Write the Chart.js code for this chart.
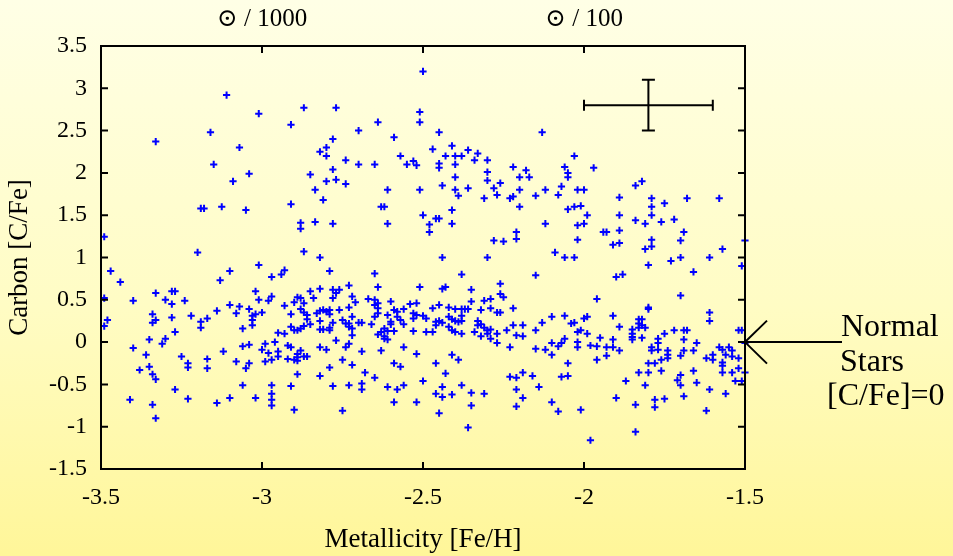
<!DOCTYPE html>
<html>
<head>
<meta charset="utf-8">
<script src="https://cdn.jsdelivr.net/npm/chart.js@4.4.1/dist/chart.umd.min.js"></script>
<style>
  html, body { margin: 0; padding: 0; }
  body {
    width: 953px; height: 556px; overflow: hidden;
    background: linear-gradient(to bottom, #ffffe6 0%, #fffcc4 55%, #fff699 100%);
  }
  canvas { display: block; }
</style>
</head>
<body>
<canvas id="starChart" width="953" height="556"></canvas>
<script>
// Star data: [Fe/H], [C/Fe]
const stars = [
  // upper cloud, left
  [-3.11,2.92],[-3.01,2.70],[-2.87,2.77],[-2.91,2.57],[-3.33,2.37],[-3.16,2.48],[-3.07,2.30],
  [-3.15,2.10],[-3.04,1.99],[-2.85,1.98],[-3.09,1.90],[-2.835,1.80],[-3.19,1.58],[-3.18,1.58],
  [-3.125,1.60],[-3.05,1.56],[-2.91,1.63],[-2.88,1.41],[-2.88,1.34],[-2.835,1.42],[-3.49,1.245],
  [-3.20,1.06],[-2.87,1.07],
  // upper cloud, middle
  [-2.50,3.20],[-2.77,2.77],[-2.51,2.72],[-2.51,2.60],[-2.64,2.60],[-2.70,2.50],[-2.45,2.48],
  [-2.59,2.42],[-2.78,2.40],[-2.82,2.25],[-2.80,2.30],[-2.80,2.20],[-2.74,2.15],[-2.70,2.10],
  [-2.65,2.10],[-2.57,2.20],[-2.55,2.10],[-2.53,2.14],[-2.52,2.09],[-2.47,2.28],[-2.41,2.32],
  [-2.43,2.20],[-2.40,2.20],[-2.38,2.20],[-2.36,2.27],[-2.33,2.23],[-2.34,2.15],[-2.30,2.15],
  [-2.45,2.11],[-2.45,2.06],[-2.40,2.10],[-2.78,2.04],[-2.80,1.90],[-2.77,1.92],[-2.74,1.87],
  [-2.81,1.68],[-2.61,1.80],[-2.51,1.80],[-2.44,1.85],[-2.40,1.95],[-2.40,1.80],[-2.39,1.73],
  [-2.36,1.82],[-2.30,2.01],[-2.30,1.91],[-2.28,1.82],[-2.26,1.88],[-2.27,1.74],[-2.31,1.70],
  [-2.22,2.07],[-2.18,2.03],[-2.20,1.95],[-2.17,1.95],[-2.20,1.80],[-2.23,1.70],[-2.22,1.72],
  [-2.20,1.60],[-2.63,1.60],[-2.62,1.60],[-2.78,1.40],[-2.61,1.40],[-2.50,1.50],[-2.48,1.39],
  [-2.48,1.30],[-2.46,1.46],[-2.45,1.46],[-2.41,1.56],[-2.41,1.40],[-2.28,1.20],[-2.25,1.19],
  [-2.21,1.30],[-2.21,1.22],
  // upper cloud, right
  [-2.13,2.48],[-2.03,2.20],[-2.06,2.07],[-2.05,2.00],[-2.05,1.95],[-1.97,2.06],[-2.07,1.84],
  [-2.12,1.80],[-2.15,1.73],[-2.08,1.74],[-2.02,1.80],[-2.00,1.80],[-2.05,1.57],[-2.03,1.60],
  [-2.01,1.61],[-1.99,1.50],[-2.12,1.40],[-2.02,1.38],[-2.00,1.40],[-2.02,1.21],[-1.94,1.30],
  [-1.93,1.30],[-1.91,1.15],[-1.89,1.17],[-1.89,1.71],[-1.89,1.50],[-1.89,1.32],[-1.84,1.85],
  [-1.82,1.90],[-1.79,1.70],[-1.79,1.60],[-1.79,1.50],[-1.75,1.64],[-1.68,1.70],[-1.58,1.70],
  [-1.84,1.44],[-1.81,1.40],[-1.76,1.42],[-1.72,1.45],[-1.69,1.30],[-1.70,1.20],[-1.79,1.21],
  [-1.79,1.13],[-1.81,1.10],[-1.57,1.10],[-1.50,1.20],[-2.09,1.06],
  // normal band, far left
  [-3.01,0.91],[-3.47,0.84],[-3.44,0.71],[-3.10,0.84],[-3.13,0.73],[-3.49,0.52],[-3.40,0.49],
  [-3.33,0.58],[-3.28,0.60],[-3.27,0.60],[-3.30,0.50],[-3.28,0.45],[-3.24,0.49],[-3.02,0.60],
  [-3.01,0.50],[-3.10,0.44],[-3.07,0.42],[-3.08,0.34],[-3.04,0.39],[-3.14,0.37],[-3.48,0.26],
  [-3.49,0.19],[-3.34,0.33],[-3.33,0.26],[-3.34,0.23],[-3.28,0.29],[-3.22,0.31],[-3.17,0.28],
  [-3.19,0.24],[-3.19,0.17],[-3.03,0.31],[-3.02,0.33],[-3.03,0.26],[-3.03,0.20],[-3.06,0.16],
  [-3.27,0.12],[-3.35,0.03],[-3.30,0.04],[-3.31,-0.02],[-3.40,-0.07],[-3.36,-0.15],[-3.25,-0.17],
  [-3.17,-0.20],[-3.12,-0.11],[-3.06,-0.05],[-3.04,-0.03],
  // normal band, centre left
  [-2.82,1.00],[-2.97,0.77],[-2.94,0.80],[-2.93,0.85],[-2.79,0.84],[-2.65,0.81],[-2.64,0.65],
  [-2.73,0.67],[-2.82,0.63],[-2.85,0.60],[-2.78,0.62],[-2.76,0.62],[-2.77,0.58],[-2.78,0.52],
  [-2.84,0.52],[-2.72,0.54],[-2.71,0.47],[-2.51,0.65],[-2.67,0.51],[-2.65,0.50],[-2.64,0.46],
  [-2.60,0.48],[-2.97,0.54],[-2.98,0.49],[-3.00,0.35],[-2.93,0.43],[-2.90,0.47],[-2.89,0.53],
  [-2.88,0.52],[-2.87,0.46],[-2.88,0.39],[-2.91,0.33],[-2.87,0.35],[-2.86,0.32],[-2.86,0.27],
  [-2.83,0.34],[-2.82,0.37],[-2.81,0.38],[-2.80,0.36],[-2.79,0.38],[-2.79,0.33],[-2.82,0.25],
  [-2.76,0.38],[-2.73,0.41],[-2.78,0.23],[-2.75,0.26],[-2.74,0.22],[-2.72,0.30],[-2.73,0.22],
  [-2.73,0.18],[-2.72,0.16],[-2.70,0.23],[-2.69,0.23],[-2.72,0.08],[-2.66,0.21],[-2.65,0.44],
  [-2.64,0.40],[-2.65,0.30],[-2.64,0.34],[-2.61,0.32],[-2.60,0.24],[-2.60,0.21],[-2.59,0.38],
  [-2.58,0.36],[-2.56,0.39],[-2.58,0.30],[-2.57,0.26],[-2.56,0.21],[-2.54,0.45],[-2.52,0.46],
  [-2.53,0.34],[-2.52,0.32],[-2.53,0.28],[-2.53,0.13],[-2.62,0.16],[-2.61,0.13],[-2.63,0.12],
  [-2.62,0.07],[-2.62,0.04],[-2.61,0.03],[-2.64,0.09],[-2.59,0.13],[-2.91,0.18],[-2.90,0.14],
  [-2.89,0.14],[-2.88,0.16],[-2.87,0.19],[-2.85,0.21],[-2.82,0.15],[-2.81,0.15],[-2.79,0.17],
  [-2.79,0.14],[-2.95,0.11],[-2.93,0.10],[-2.96,0.00],[-2.99,-0.02],[-3.00,-0.09],[-2.92,-0.04],
  [-2.91,-0.06],[-2.95,-0.11],[-2.98,-0.13],[-2.89,-0.14],[-2.88,-0.10],[-2.87,-0.17],[-2.89,-0.18],
  [-2.86,-0.17],[-2.82,-0.06],[-2.80,-0.09],[-2.77,0.02],[-2.74,-0.06],[-2.73,-0.02],[-2.69,-0.11],
  [-2.63,-0.10],[-2.56,-0.06],[-2.52,-0.14],
  // normal band, centre right
  [-2.44,1.00],[-2.30,1.00],[-2.06,1.00],[-2.03,1.00],[-2.38,0.80],[-2.15,0.79],[-2.26,0.69],
  [-2.44,0.63],[-2.43,0.65],[-2.35,0.62],[-2.35,0.48],[-2.26,0.57],[-2.25,0.53],[-2.31,0.49],
  [-2.29,0.51],[-2.45,0.44],[-2.47,0.40],[-2.42,0.41],[-2.40,0.39],[-2.38,0.39],[-2.37,0.39],
  [-2.36,0.39],[-2.32,0.38],[-2.29,0.40],[-2.27,0.35],[-2.26,0.35],[-2.22,0.40],[-2.50,0.31],
  [-2.49,0.28],[-2.46,0.24],[-2.45,0.25],[-2.44,0.23],[-2.46,0.20],[-2.42,0.30],[-2.41,0.27],
  [-2.40,0.25],[-2.39,0.24],[-2.38,0.31],[-2.38,0.25],[-2.42,0.18],[-2.41,0.14],[-2.40,0.12],
  [-2.38,0.10],[-2.49,0.12],[-2.47,0.12],[-2.33,0.25],[-2.32,0.21],[-2.33,0.20],[-2.31,0.17],
  [-2.34,0.12],[-2.32,0.07],[-2.30,0.14],[-2.29,0.15],[-2.30,0.10],[-2.29,0.04],[-2.27,0.10],
  [-2.27,-0.01],[-2.24,0.14],[-2.22,0.20],[-2.19,0.20],[-2.21,0.08],[-2.19,0.07],[-2.23,-0.06],
  [-2.15,0.14],[-2.13,0.23],[-2.10,0.30],[-2.06,0.31],[-2.04,0.22],[-2.03,0.23],[-2.02,0.12],
  [-2.01,0.14],[-2.00,0.28],[-2.02,0.00],[-2.02,-0.06],[-2.10,-0.01],[-2.08,-0.05],[-2.07,-0.01],
  [-2.06,0.04],[-2.15,-0.08],[-2.12,-0.09],[-2.10,-0.15],[-2.41,-0.15],[-2.39,-0.21],
  // normal band, right
  [-1.70,1.00],[-1.73,0.96],[-1.61,1.00],[-1.80,0.91],[-1.51,0.90],[-1.90,0.77],[-1.88,0.80],
  [-1.66,0.83],[-1.96,0.51],[-1.70,0.55],[-1.80,0.41],[-1.80,0.39],[-1.61,0.35],[-1.61,0.25],
  [-1.99,0.30],[-1.91,0.31],[-1.89,0.18],[-1.83,0.27],[-1.82,0.27],[-1.83,0.22],[-1.82,0.20],
  [-1.81,0.17],[-1.83,0.17],[-1.85,0.15],[-1.85,0.10],[-1.85,0.06],[-1.85,0.03],[-1.82,0.05],
  [-1.99,0.10],[-1.95,0.05],[-1.91,0.03],[-1.75,0.10],[-1.72,0.14],[-1.69,0.14],[-1.68,0.14],
  [-1.69,0.03],[-1.77,0.04],[-1.77,-0.01],[-1.65,-0.01],[-1.52,0.14],[-1.51,0.14],[-1.98,-0.04],
  [-1.96,-0.05],[-1.93,-0.06],[-1.91,-0.06],[-1.89,-0.10],[-1.93,-0.16],[-1.79,-0.06],[-1.79,-0.10],
  [-1.77,-0.09],[-1.74,-0.10],[-1.74,-0.15],[-1.74,-0.19],[-1.69,-0.10],[-1.70,-0.16],[-1.66,-0.10],
  [-1.58,-0.06],[-1.57,-0.09],[-1.56,-0.15],[-1.55,-0.06],[-1.54,-0.10],[-1.54,-0.17],[-1.60,-0.15],
  [-1.62,-0.19],[-1.52,-0.19],[-1.50,-0.01],
  // low side, left
  [-3.08,-0.23],[-3.04,-0.25],[-3.05,-0.31],[-3.23,-0.25],[-3.23,-0.30],[-3.17,-0.31],[-3.38,-0.33],
  [-3.35,-0.29],[-3.34,-0.38],[-3.33,-0.44],[-3.27,-0.56],[-3.06,-0.51],[-3.41,-0.68],[-3.34,-0.74],
  [-3.33,-0.90],[-3.23,-0.67],[-3.14,-0.72],[-3.10,-0.66],[-3.02,-0.66],
  // low side, centre left
  [-2.99,-0.23],[-2.97,-0.21],[-2.92,-0.20],[-2.90,-0.21],[-2.89,-0.22],[-2.95,-0.17],[-2.89,-0.38],
  [-2.97,-0.51],[-2.97,-0.61],[-2.97,-0.68],[-2.97,-0.75],[-2.91,-0.52],[-2.90,-0.80],[-2.82,-0.40],
  [-2.79,-0.30],[-2.75,-0.21],[-2.72,-0.27],[-2.78,-0.52],[-2.75,-0.81],[-2.73,-0.51],[-2.69,-0.49],
  [-2.69,-0.56],[-2.68,-0.36],[-2.65,-0.42],[-2.61,-0.53],[-2.59,-0.25],[-2.57,-0.29],[-2.58,-0.56],
  [-2.56,-0.51],[-2.59,-0.71],[-2.52,-0.71],[-2.50,-0.46],
  // low side, centre right
  [-2.46,-0.25],[-2.43,-0.37],[-2.44,-0.53],[-2.46,-0.61],[-2.44,-0.65],[-2.41,-0.62],[-2.38,-0.51],
  [-2.35,-0.60],[-2.31,-0.61],[-2.35,-0.75],[-2.45,-0.84],[-2.36,-1.01],[-2.23,-0.41],[-2.21,-0.42],
  [-2.19,-0.36],[-2.16,-0.40],[-2.21,-0.56],[-2.19,-0.66],[-2.21,-0.76],[-2.14,-0.53],[-2.05,-0.25],
  [-2.07,-0.41],[-2.05,-0.40],[-2.10,-0.71],[-2.08,-0.82],[-2.01,-0.80],
  // low side, right
  [-1.96,-0.21],[-1.80,-0.25],[-1.78,-0.25],[-1.76,-0.21],[-1.60,-0.21],[-1.57,-0.24],[-1.57,-0.28],
  [-1.83,-0.36],[-1.80,-0.36],[-1.76,-0.34],[-1.87,-0.46],[-1.81,-0.51],[-1.71,-0.45],[-1.70,-0.39],
  [-1.70,-0.51],[-1.66,-0.34],[-1.65,-0.48],[-1.57,-0.36],[-1.54,-0.36],[-1.52,-0.31],[-1.50,-0.36],
  [-1.53,-0.46],[-1.51,-0.46],[-1.61,-0.56],[-1.56,-0.61],[-1.90,-0.66],[-1.84,-0.74],[-1.78,-0.68],
  [-1.78,-0.77],[-1.75,-0.67],[-1.69,-0.64],[-1.62,-0.81],[-1.84,-1.06],[-1.98,-1.16]
];

// Typical error bar: centre and half widths
const errCentre = [-1.8, 2.8];
const errHalf = [0.2, 0.3];

// Axis ranges and top labels
const xRange = [-3.5, -1.5];
const yRange = [-1.5, 3.5];
const tickStep = 0.5;
const topLabelX = [-3, -2];
const topLabelText = ['\u2299 / 1000', '\u2299 / 100'];
const noteLines = ['Normal', 'Stars', '[C/Fe]=0'];

const serif = '"Liberation Serif", "DejaVu Serif", "Times New Roman", serif';

// Frame, inward ticks, error bar, top labels and the arrow note
const decorPlugin = {
    id: 'decor',
    afterDatasetsDraw(chart) {
        const {ctx, chartArea: a, scales: {x, y}} = chart;
        ctx.save();
        ctx.strokeStyle = '#000';
        ctx.lineWidth = 2;
        ctx.strokeRect(a.left, a.top, a.right - a.left, a.bottom - a.top);

        // inward tick marks on all four sides
        ctx.beginPath();
        for (let v = xRange[0]; v <= xRange[1] + 1e-9; v += tickStep) {
            const px = x.getPixelForValue(v);
            ctx.moveTo(px, a.bottom); ctx.lineTo(px, a.bottom - 7);
            ctx.moveTo(px, a.top); ctx.lineTo(px, a.top + 7);
        }
        for (let v = yRange[0]; v <= yRange[1] + 1e-9; v += tickStep) {
            const py = y.getPixelForValue(v);
            ctx.moveTo(a.left, py); ctx.lineTo(a.left + 7, py);
            ctx.moveTo(a.right, py); ctx.lineTo(a.right - 7, py);
        }
        ctx.stroke();

        // error bar
        const cx = x.getPixelForValue(errCentre[0]);
        const cy = y.getPixelForValue(errCentre[1]);
        const x0 = x.getPixelForValue(errCentre[0] - errHalf[0]);
        const x1 = x.getPixelForValue(errCentre[0] + errHalf[0]);
        const y0 = y.getPixelForValue(errCentre[1] + errHalf[1]);
        const y1 = y.getPixelForValue(errCentre[1] - errHalf[1]);
        ctx.beginPath();
        ctx.moveTo(x0, cy); ctx.lineTo(x1, cy);
        ctx.moveTo(x0, cy - 5.5); ctx.lineTo(x0, cy + 5.5);
        ctx.moveTo(x1, cy - 5.5); ctx.lineTo(x1, cy + 5.5);
        ctx.moveTo(cx, y0); ctx.lineTo(cx, y1);
        ctx.moveTo(cx - 6.5, y0); ctx.lineTo(cx + 6.5, y0);
        ctx.moveTo(cx - 6.5, y1); ctx.lineTo(cx + 6.5, y1);
        ctx.stroke();

        // top labels
        ctx.fillStyle = '#000';
        ctx.font = '25px ' + serif;
        ctx.textAlign = 'center';
        ctx.textBaseline = 'middle';
        topLabelX.forEach((v, i) => {
            ctx.fillText(topLabelText[i], x.getPixelForValue(v), 19);
        });

        // arrow to [C/Fe] = 0
        const zy = y.getPixelForValue(0);
        ctx.beginPath();
        ctx.moveTo(a.right + 97, zy); ctx.lineTo(a.right, zy);
        ctx.moveTo(a.right + 22, zy - 21.5); ctx.lineTo(a.right, zy); ctx.lineTo(a.right + 22, zy + 21.5);
        ctx.stroke();

        ctx.font = '32px ' + serif;
        ctx.textAlign = 'left';
        ctx.textBaseline = 'alphabetic';
        ctx.fillText(noteLines[0], a.right + 96, zy - 6);
        ctx.fillText(noteLines[1], a.right + 95, zy + 28.5);
        ctx.fillText(noteLines[2], a.right + 82, zy + 63);
        ctx.restore();
    }
};

const ctx = document.getElementById('starChart').getContext('2d');
const starChart = new Chart(ctx, {
    type: 'scatter',
    data: {
        datasets: [{
            data: stars.map(s => ({x: s[0], y: s[1]})),
            pointStyle: 'cross',
            pointRadius: 3.6,
            borderColor: '#0000ff',
            backgroundColor: '#0000ff',
            borderWidth: 2,
            clip: false
        }]
    },
    options: {
        responsive: false,
        animation: false,
        events: [],
        layout: {padding: {top: 46, right: 208, left: 0, bottom: 0}},
        plugins: {
            legend: {display: false},
            tooltip: {enabled: false}
        },
        scales: {
            x: {
                type: 'linear',
                min: xRange[0],
                max: xRange[1],
                grid: {display: false, drawTicks: false},
                border: {display: false},
                ticks: {
                    stepSize: tickStep,
                    padding: 14,
                    color: '#000',
                    font: {family: serif, size: 24},
                    callback: v => String(v)
                },
                title: {
                    display: true,
                    text: 'Metallicity [Fe/H]',
                    color: '#000',
                    font: {family: serif, size: 27},
                    padding: {top: 0, bottom: 0}
                },
                afterFit(scale) { scale.height = 87; }
            },
            y: {
                type: 'linear',
                min: yRange[0],
                max: yRange[1],
                grid: {display: false, drawTicks: false},
                border: {display: false},
                ticks: {
                    stepSize: tickStep,
                    padding: 14,
                    color: '#000',
                    font: {family: serif, size: 24},
                    callback: v => String(v)
                },
                title: {
                    display: true,
                    text: 'Carbon [C/Fe]',
                    color: '#000',
                    font: {family: serif, size: 27},
                    padding: {top: 4, bottom: 0}
                },
                afterFit(scale) { scale.width = 101; }
            }
        }
    },
    plugins: [decorPlugin]
});
</script>
</body>
</html>
